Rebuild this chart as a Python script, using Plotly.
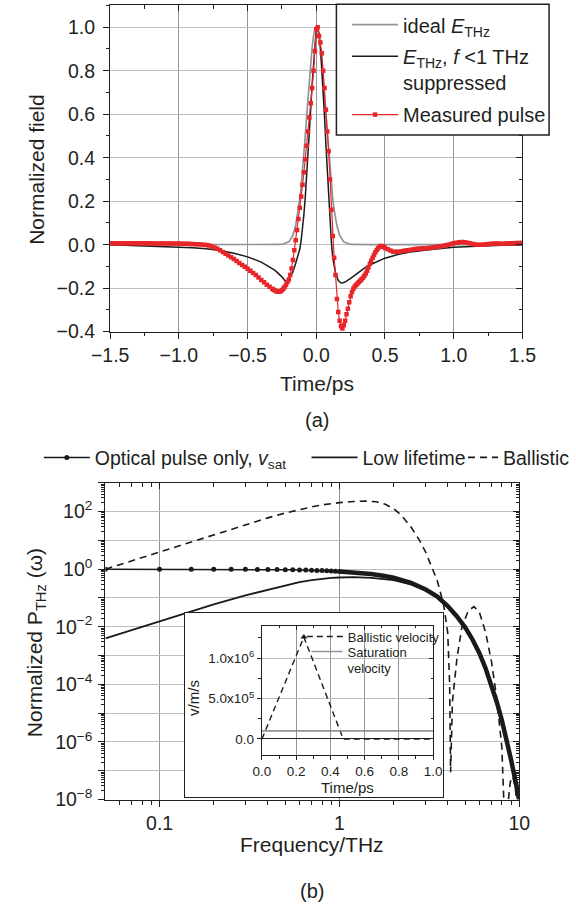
import numpy as np
import plotly.graph_objects as go

# ---------------- data: panel (a) ----------------
t_ideal = [-1.5, -0.40, -0.30, -0.25, -0.20, -0.17, -0.15, -0.13, -0.12, -0.11, -0.10, -0.09, -0.08,
           -0.07, -0.06, -0.05, -0.04, -0.03, -0.02, -0.01, 0.0, 0.01, 0.02, 0.03, 0.04, 0.05, 0.06,
           0.07, 0.08, 0.09, 0.10, 0.11, 0.12, 0.13, 0.15, 0.17, 0.20, 0.25, 0.30, 0.40, 1.5]
v_ideal = [0.0, 0.0, 0.0, 0.001, 0.013, 0.043, 0.088, 0.16, 0.21, 0.27, 0.34, 0.42, 0.50,
           0.59, 0.68, 0.76, 0.84, 0.91, 0.96, 0.99, 1.0, 0.99, 0.96, 0.91, 0.84, 0.76, 0.68,
           0.59, 0.50, 0.42, 0.34, 0.27, 0.21, 0.16, 0.088, 0.043, 0.013, 0.001, 0.0, 0.0, 0.0]

t_filt = [-1.5, -1.25, -1.0, -0.9, -0.8, -0.7, -0.6, -0.5, -0.4, -0.3, -0.25, -0.225, -0.2, -0.17,
          -0.15, -0.13, -0.12, -0.11, -0.10, -0.09, -0.08, -0.07, -0.06, -0.05, -0.04, -0.03, -0.02,
          -0.01, 0.0, 0.01, 0.02, 0.03, 0.04, 0.05, 0.06, 0.07, 0.08, 0.09, 0.10, 0.11, 0.12, 0.14,
          0.16, 0.18, 0.20, 0.22, 0.25, 0.30, 0.35, 0.40, 0.50, 0.60, 0.70, 0.80, 1.0, 1.25, 1.5]
v_filt = [0.0, -0.005, -0.01, -0.014, -0.019, -0.027, -0.039, -0.056, -0.08, -0.118, -0.148, -0.168,
          -0.160, -0.125, -0.085, -0.045, -0.02, 0.02, 0.07, 0.14, 0.22, 0.31, 0.41, 0.52, 0.63,
          0.74, 0.84, 0.93, 0.99, 1.0, 0.97, 0.91, 0.82, 0.71, 0.59, 0.46, 0.33, 0.21, 0.10, 0.01,
          -0.06, -0.13, -0.165, -0.176, -0.174, -0.168, -0.155, -0.13, -0.108, -0.09, -0.062,
          -0.044, -0.032, -0.024, -0.012, -0.005, 0.0]

t_meas_1 = np.round(np.arange(-1.50, -0.795, 0.02), 2)
v_meas_1 = [0.006, 0.006, 0.006, 0.006, 0.006, 0.006, 0.006, 0.006, 0.006, 0.006, 0.006, 0.006,
            0.006, 0.006, 0.006, 0.006, 0.005, 0.005, 0.005, 0.005, 0.005, 0.005, 0.005, 0.005,
            0.005, 0.005, 0.004, 0.004, 0.004, 0.003, 0.003, 0.002, 0.002, 0.001, 0.0, -0.001]
t_meas_2 = np.round(np.arange(-0.78, -0.315, 0.02), 2)
v_meas_2 = [-0.004, -0.008, -0.013, -0.019, -0.026, -0.034, -0.042, -0.050, -0.058, -0.066,
            -0.075, -0.084, -0.093, -0.102, -0.111, -0.120, -0.130, -0.140, -0.151, -0.162,
            -0.173, -0.184, -0.194, -0.203]
t_meas_3 = np.round(np.arange(-0.31, 0.505, 0.01), 2)
v_meas_3 = [-0.207, -0.211, -0.214, -0.216, -0.216, -0.214, -0.210, -0.203, -0.195, -0.184,
            -0.172, -0.160, -0.140, -0.110, -0.070, -0.026, 0.020, 0.068, 0.118, 0.170,
            0.222, 0.275, 0.333, 0.393, 0.455, 0.520, 0.585, 0.650, 0.720, 0.800, 0.890,
            0.990, 1.000, 0.960, 0.930, 0.880, 0.800, 0.720, 0.620, 0.520, 0.430, 0.300,
            0.160, 0.040, -0.060, -0.140, -0.250, -0.310, -0.350, -0.375, -0.385, -0.370,
            -0.350, -0.320, -0.295, -0.265, -0.237, -0.218, -0.203, -0.192, -0.185, -0.179,
            -0.172, -0.166, -0.159, -0.152, -0.143, -0.132, -0.120, -0.104, -0.088, -0.074,
            -0.060, -0.047, -0.035, -0.024, -0.016, -0.009, -0.006, -0.007, -0.010, -0.015]
t_meas_4 = np.round(np.arange(0.52, 1.505, 0.02), 2)
v_meas_4 = [-0.021, -0.027, -0.032, -0.033, -0.032, -0.030, -0.028, -0.026, -0.024, -0.022,
            -0.020, -0.019, -0.018, -0.017, -0.016, -0.015, -0.013, -0.012, -0.010, -0.008,
            -0.006, -0.003, 0.000, 0.003, 0.006, 0.009, 0.011, 0.012, 0.011, 0.009, 0.006,
            0.003, 0.001, 0.000, 0.000, 0.001, 0.002, 0.003, 0.004, 0.005, 0.005, 0.004,
            0.004, 0.005, 0.006, 0.007, 0.007, 0.008, 0.008, 0.008]
t_meas = list(t_meas_1) + list(t_meas_2) + list(t_meas_3) + list(t_meas_4)
v_meas = v_meas_1 + v_meas_2 + v_meas_3 + v_meas_4

# ---------------- data: panel (b) ----------------
f_opt_dots = np.round(np.arange(0.05, 1.001, 0.05), 2)
p_opt_dots = [1.0, 1.0, 1.0, 0.999, 0.99, 0.985, 0.98, 0.97, 0.965, 0.955, 0.945, 0.935,
              0.925, 0.91, 0.90, 0.89, 0.875, 0.86, 0.845, 0.83]
f_opt_hi = [1.0, 1.25, 1.5, 1.75, 2.0, 2.5, 3.0, 3.5, 4.0, 4.5, 5.0, 5.5, 6.0, 6.5, 7.0, 7.5,
            8.0, 8.5, 9.0, 9.5, 10.0]
logp_opt_hi = [-0.08, -0.12, -0.17, -0.23, -0.30, -0.48, -0.70, -0.95, -1.28, -1.64, -2.02,
               -2.45, -2.92, -3.45, -4.02, -4.62, -5.25, -5.92, -6.62, -7.32, -8.05]

f_low = [0.05, 0.07, 0.1, 0.15, 0.2, 0.3, 0.4, 0.5, 0.6, 0.7, 0.8, 0.9, 1.0, 1.2, 1.5, 2.0,
         2.5, 3.0]
logp_low = [-2.40, -2.11, -1.80, -1.45, -1.22, -0.91, -0.71, -0.56, -0.45, -0.38, -0.33,
            -0.30, -0.29, -0.28, -0.30, -0.38, -0.53, -0.74]

f_bal = [0.05, 0.07, 0.1, 0.15, 0.2, 0.3, 0.4, 0.5, 0.6, 0.7, 0.8, 0.9, 1.0, 1.2, 1.4, 1.6,
         1.8, 2.0, 2.2, 2.5, 2.8, 3.0, 3.3, 3.5, 3.8, 4.0, 4.1, 4.15, 4.25, 4.5, 4.8, 5.2, 5.6,
         6.0, 6.5, 7.0, 7.5, 8.0, 8.25, 8.4, 8.6, 8.9, 9.2, 9.5, 9.8, 10.0]
logp_bal = [0.0, 0.29, 0.60, 0.95, 1.20, 1.55, 1.78, 1.95, 2.07, 2.16, 2.23, 2.28, 2.31, 2.35,
            2.36, 2.34, 2.25, 2.10, 1.88, 1.46, 0.98, 0.62, 0.0, -0.40, -1.25, -2.2, -4.0, -7.05,
            -4.6, -3.1, -2.0, -1.45, -1.30, -1.50, -2.2, -3.2, -4.5, -6.2, -8.5, -9.5, -8.3, -7.4,
            -7.2, -7.6, -8.4, -9.0]

# inset
t_ball = [0.0, 0.245, 0.475, 1.0]
v_ball = [0.0, 1.26e6, 0.0, 0.0]
t_ball_peak = [0.245]
v_ball_peak = [1.26e6]
t_sat = [0.0, 1.0]
v_sat = [1.0e5, 1.0e5]

x_ticks_a = [-1.5, -1.0, -0.5, 0.0, 0.5, 1.0, 1.5]
y_ticks_a = [-0.4, -0.2, 0.0, 0.2, 0.4, 0.6, 0.8, 1.0]
x_ticks_b = [0.1, 1, 10]
x_ticktext_b = ["0.1", "1", "10"]
y_decades_b = list(range(-8, 4))
ins_y_ticks = [0.0, 5.0e5, 1.0e6]
ins_y_text = ["0.0", "5.0x10<sup>5</sup>", "1.0x10<sup>6</sup>"]

# ---------------- layout helpers ----------------
W, H = 576, 916
def PX(x):
    return x / W
def PY(y):
    return 1 - y / H

FONT = "Liberation Sans, Arial, Helvetica, sans-serif"
TXT = "#231f20"
RED = "#e8262a"
GRID_V = "#8d949b"
GRID_H = "#b9bec3"
BLK = "#1a1a1a"

fig = go.Figure()

# panel (a)
fig.add_trace(go.Scatter(x=t_ideal, y=v_ideal, mode="lines", line=dict(color="#8f959a", width=1.7),
                         name="ideal <i>E</i><sub>THz</sub>", legend="legend"))
fig.add_trace(go.Scatter(x=t_filt, y=v_filt, mode="lines", line=dict(color=BLK, width=1.5),
                         name="<i>E</i><sub>THz</sub>, <i>f</i> <1 THz<br>suppressed", legend="legend6"))
fig.add_trace(go.Scatter(x=t_meas, y=v_meas, mode="lines+markers",
                         line=dict(color=RED, width=1.2),
                         marker=dict(symbol="square", size=4.5, color=RED),
                         name="Measured pulse", legend="legend7"))

# panel (b)
fig.add_trace(go.Scatter(x=f_opt_dots, y=p_opt_dots, mode="lines+markers", xaxis="x2", yaxis="y2",
                         line=dict(color=BLK, width=1.5),
                         marker=dict(symbol="circle", size=5, color=BLK),
                         name="Optical pulse only, <i>v</i><sub>sat</sub>", legend="legend2"))
fig.add_trace(go.Scatter(x=f_low, y=[10 ** v for v in logp_low], mode="lines", xaxis="x2", yaxis="y2",
                         line=dict(color=BLK, width=1.8),
                         name="Low lifetime", legend="legend4"))
fig.add_trace(go.Scatter(x=f_opt_hi, y=[10 ** v for v in logp_opt_hi], mode="lines", xaxis="x2", yaxis="y2",
                         line=dict(color=BLK, width=4.5), showlegend=False))
fig.add_trace(go.Scatter(x=f_bal, y=[10 ** v for v in logp_bal], mode="lines", xaxis="x2", yaxis="y2",
                         line=dict(color=BLK, width=1.6, dash="7px,5px"),
                         name="Ballistic", legend="legend5"))

# inset frame subplot (x3/y3), drawn over panel (b)
fig.add_trace(go.Scatter(x=[None], y=[None], xaxis="x3", yaxis="y3", showlegend=False, hoverinfo="skip"))

# inset (x4/y4)
fig.add_trace(go.Scatter(x=t_ball, y=v_ball, mode="lines", xaxis="x4", yaxis="y4",
                         line=dict(color=BLK, width=1.4, dash="6px,4px"),
                         name="Ballistic velocity", legend="legend3"))
fig.add_trace(go.Scatter(x=t_ball_peak, y=v_ball_peak, mode="markers", xaxis="x4", yaxis="y4",
                         marker=dict(symbol="triangle-up", size=6, color=BLK),
                         showlegend=False, hoverinfo="skip"))
fig.add_trace(go.Scatter(x=t_sat, y=v_sat, mode="lines", xaxis="x4", yaxis="y4",
                         line=dict(color="#8f959a", width=1.6),
                         name="Saturation<br>velocity", legend="legend8"))

# empty helpers so the inward-tick overlay axes (top / right) are drawn
for xa, ya in [("x5", "y"), ("x", "y5"), ("x6", "y2"), ("x2", "y6"), ("x7", "y4"), ("x4", "y7")]:
    fig.add_trace(go.Scatter(x=[None], y=[None], xaxis=xa, yaxis=ya, showlegend=False, hoverinfo="skip"))

axis_common = dict(showline=True, linecolor=TXT, linewidth=1.3, ticks="outside",
                   tickcolor=TXT, tickwidth=1.1, zeroline=False, mirror=True)

def overlay(base, side, anchor, rng, tickvals, minor, ticklen, mlen, logtype=False):
    d = dict(overlaying=base, side=side, anchor=anchor, range=rng, tickvals=tickvals,
             ticks="inside", ticklen=ticklen, tickcolor=TXT, tickwidth=1.1,
             showticklabels=False, showgrid=False, zeroline=False, showline=False,
             minor=dict(ticks="inside", ticklen=mlen, tickcolor=TXT, showgrid=False, **minor))
    if logtype:
        d["type"] = "log"
    return d

def leg(x, y, size, iw, yanchor="middle"):
    return dict(x=PX(x), y=PY(y), xanchor="left", yanchor=yanchor, bgcolor="rgba(0,0,0,0)",
                borderwidth=0, font=dict(size=size), itemwidth=iw, valign="top",
                orientation="v", tracegroupgap=0)

minor_xb = [0.06, 0.07, 0.08, 0.09, 0.2, 0.3, 0.4, 0.5, 0.6, 0.7, 0.8, 0.9, 2, 3, 4, 5, 6, 7, 8, 9]
minor_yb = [k * 10.0 ** d for d in range(-8, 3) for k in range(2, 10)]
yb_vals = [10.0 ** d for d in y_decades_b]

fig.update_layout(
    width=W, height=H, autosize=False,
    margin=dict(l=0, r=0, t=0, b=0),
    paper_bgcolor="white", plot_bgcolor="white",
    font=dict(family=FONT, color=TXT, size=19),
    xaxis=dict(domain=[PX(96.7), PX(534)], range=[-1.5, 1.5], anchor="y",
               tickvals=x_ticks_a, tickformat=".1f", ticklen=6,
               showgrid=True, gridcolor=GRID_V, gridwidth=1.1,
               minor=dict(dtick=0.25, tick0=0, ticks="outside", ticklen=3.5, tickcolor=TXT),
               tickfont=dict(size=19.5), **axis_common),
    yaxis=dict(domain=[PY(335.7), PY(5.5)], range=[-0.4, 1.1], anchor="x",
               tickvals=y_ticks_a, tickformat=".1f", ticklen=6,
               showgrid=True, gridcolor=GRID_H, gridwidth=1.1,
               minor=dict(dtick=0.1, tick0=0, ticks="outside", ticklen=3.5, tickcolor=TXT),
               tickfont=dict(size=19.5), ticklabelstandoff=4, **axis_common),
    xaxis5=overlay("x", "top", "y", [-1.5, 1.5], x_ticks_a, dict(dtick=0.25, tick0=0), 6, 3.5),
    yaxis5=overlay("y", "right", "x", [-0.4, 1.1], y_ticks_a, dict(dtick=0.1, tick0=0), 6, 3.5),
    xaxis2=dict(domain=[PX(91.7), PX(530.7)], type="log", range=[np.log10(0.05), 1], anchor="y2",
                tickvals=x_ticks_b, ticktext=x_ticktext_b, ticklen=6,
                showgrid=True, gridcolor=GRID_V, gridwidth=1.1,
                minor=dict(tickvals=minor_xb, ticks="outside", ticklen=4, tickcolor=TXT, showgrid=False),
                tickfont=dict(size=19.5), **axis_common),
    yaxis2=dict(domain=[PY(809.3), PY(488.6)], type="log", range=[-8, 3], anchor="x2",
                tickvals=yb_vals,
                ticktext=[("10<sup>%s</sup>" % (str(d).replace("-", "\u2212")) if d % 2 == 0 else "")
                          for d in y_decades_b],
                ticklen=6, showgrid=True, gridcolor=GRID_H, gridwidth=1.3,
                minor=dict(tickvals=minor_yb, ticks="outside", ticklen=3, tickcolor=TXT, showgrid=False),
                tickfont=dict(size=19.5), ticklabelstandoff=2, **axis_common),
    xaxis6=overlay("x2", "top", "y2", [np.log10(0.05), 1], x_ticks_b, dict(tickvals=minor_xb), 6, 4, True),
    yaxis6=overlay("y2", "right", "x2", [-8, 3], yb_vals, dict(tickvals=minor_yb), 6, 3, True),
    xaxis3=dict(domain=[PX(176), PX(450)], range=[0, 1], anchor="y3", showline=True, mirror=True,
                linecolor=TXT, linewidth=1.3, showgrid=False, zeroline=False,
                showticklabels=False, ticks=""),
    yaxis3=dict(domain=[PY(806.7), PY(620)], range=[0, 1], anchor="x3", showline=True, mirror=True,
                linecolor=TXT, linewidth=1.3, showgrid=False, zeroline=False,
                showticklabels=False, ticks=""),
    xaxis4=dict(domain=[PX(257.7), PX(439.2)], range=[0, 1], anchor="y4",
                dtick=0.2, tick0=0, tickformat=".1f", ticklen=4, mirror=True,
                showgrid=True, gridcolor=GRID_V, gridwidth=1.0,
                minor=dict(dtick=0.1, ticks="outside", ticklen=2.5, tickcolor=TXT),
                tickfont=dict(size=13.5), showline=True, linecolor=TXT, linewidth=1.2,
                ticks="outside", tickcolor=TXT, zeroline=False),
    yaxis4=dict(domain=[PY(764.3), PY(633.3)], range=[-2.0e5, 1.4e6], anchor="x4",
                tickvals=ins_y_ticks, ticktext=ins_y_text, ticklen=4, mirror=True,
                showgrid=True, gridcolor=GRID_H, gridwidth=1.0,
                minor=dict(dtick=2.5e5, tick0=0, ticks="outside", ticklen=2.5, tickcolor=TXT),
                zeroline=True, zerolinecolor=TXT, zerolinewidth=1.2,
                tickfont=dict(size=13.5), showline=True, linecolor=TXT, linewidth=1.2,
                ticks="outside", tickcolor=TXT),
    xaxis7=overlay("x4", "top", "y4", [0, 1], [0, 0.2, 0.4, 0.6, 0.8, 1.0], dict(dtick=0.1), 4, 2.5),
    yaxis7=overlay("y4", "right", "x4", [-2.0e5, 1.4e6], ins_y_ticks, dict(dtick=2.5e5, tick0=0), 4, 2.5),
    legend=leg(348, 25, 20, 46),
    legend6=leg(348, 70, 20, 46),
    legend7=leg(348, 116, 20, 46),
    legend2=leg(21, 463.3, 19.5, 46),
    legend4=leg(305, 463.3, 19.5, 46),
    legend5=leg(471, 463.3, 19.5, 30),
    legend3=leg(300, 644.3, 13, 36),
    legend8=leg(305, 668, 13, 31),
    showlegend=True,
    shapes=[dict(type="rect", xref="paper", yref="paper", x0=PX(336.7), x1=PX(562.3),
                 y0=PY(136.7), y1=PY(4.3), fillcolor="white", line=dict(color=TXT, width=1.5),
                 layer="above")],
)

ann = [
    dict(text="Time/ps", x=PX(316), y=PY(388), font=dict(size=21)),
    dict(text="(a)", x=PX(316), y=PY(425), font=dict(size=20)),
    dict(text="Normalized field", x=PX(19), y=PY(171), textangle=-90, font=dict(size=21)),
    dict(text="Frequency/THz", x=PX(311), y=PY(855), font=dict(size=21)),
    dict(text="(b)", x=PX(311), y=PY(902), font=dict(size=20)),
    dict(text="Normalized P<sub>THz</sub> (\u03c9)", x=PX(18), y=PY(650), textangle=-90, font=dict(size=21)),
    dict(text="v/m/s", x=PX(185), y=PY(706), textangle=-90, font=dict(size=15)),
    dict(text="Time/ps", x=PX(348), y=PY(797), font=dict(size=15)),
]
for a in ann:
    fig.add_annotation(xref="paper", yref="paper", showarrow=False, xanchor="center", yanchor="middle", **a)

fig.write_html("out.html")
